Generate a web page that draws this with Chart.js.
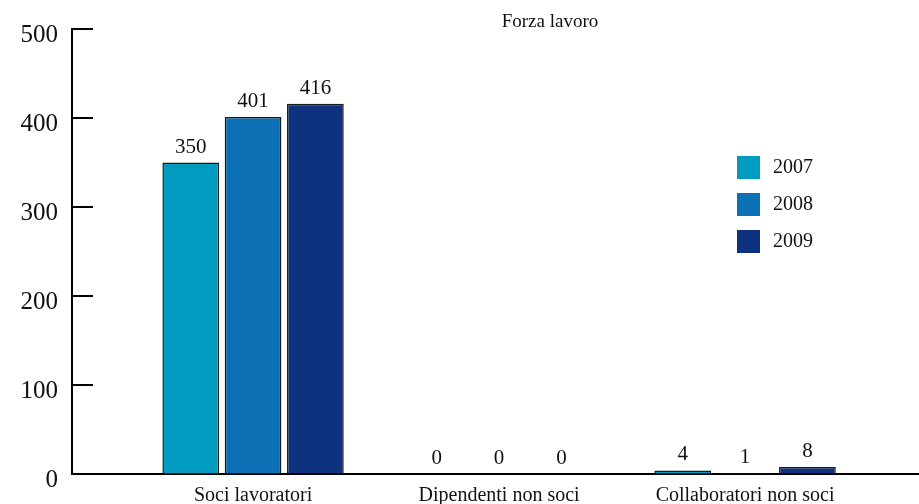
<!DOCTYPE html>
<html>
<head>
<meta charset="utf-8">
<script src="https://cdn.jsdelivr.net/npm/chart.js@4/dist/chart.umd.min.js"></script>
<style>
  html, body { margin: 0; padding: 0; background: #fff; }
  #wrap { width: 919px; height: 504px; }
</style>
</head>
<body>
<div id="wrap"><canvas id="chart" width="919" height="504"></canvas></div>
<script>
// --- dati ---
const categories = ['Soci lavoratori', 'Dipendenti non soci', 'Collaboratori non soci'];
const years = ['2007', '2008', '2009'];
const values2007 = [350, 0, 4];
const values2008 = [401, 0, 1];
const values2009 = [416, 0, 8];
const yTicks = [0, 100, 200, 300, 400, 500];
const chartTitle = 'Forza lavoro';

const colors = ['#009bbf', '#0b71b4', '#0e3180'];
const serif = '"Liberation Serif", "DejaVu Serif", serif';

function toPoints(arr) {
    return arr.map((v, i) => ({ x: i, y: v }));
}

// tacche interne sull'asse y
const innerTicks = {
    id: 'innerTicks',
    afterDraw(chart) {
        const { ctx, chartArea, scales } = chart;
        ctx.save();
        ctx.strokeStyle = '#000';
        ctx.lineWidth = 2;
        scales.y.ticks.forEach((t, i) => {
            const y = Math.round(scales.y.getPixelForTick(i));
            ctx.beginPath();
            ctx.moveTo(chartArea.left, y);
            ctx.lineTo(chartArea.left + 21, y);
            ctx.stroke();
        });
        ctx.restore();
    }
};

// valori sopra le barre
const valueLabels = {
    id: 'valueLabels',
    afterDatasetsDraw(chart) {
        const { ctx } = chart;
        ctx.save();
        ctx.font = '21px ' + serif;
        ctx.fillStyle = '#111';
        ctx.textAlign = 'center';
        ctx.textBaseline = 'alphabetic';
        chart.data.datasets.forEach((ds, di) => {
            chart.getDatasetMeta(di).data.forEach((bar, i) => {
                ctx.fillText(String(ds.data[i].y), bar.x, bar.y - 10);
            });
        });
        ctx.restore();
    }
};

// legenda e titolo disegnati dentro l'area
const legendAndTitle = {
    id: 'legendAndTitle',
    afterDraw(chart) {
        const { ctx } = chart;
        ctx.save();
        ctx.fillStyle = '#111';
        ctx.font = '19px ' + serif;
        ctx.textAlign = 'center';
        ctx.textBaseline = 'middle';
        ctx.fillText(chartTitle, 550, 22);

        ctx.font = '20px ' + serif;
        ctx.textAlign = 'left';
        chart.data.datasets.forEach((ds, i) => {
            const top = 156 + i * 37;
            ctx.fillStyle = ds.backgroundColor;
            ctx.fillRect(737, top, 23, 23);
            ctx.fillStyle = '#111';
            ctx.fillText(ds.label, 773, top + 12);
        });
        ctx.restore();
    }
};

new Chart(document.getElementById('chart'), {
    type: 'bar',
    data: {
        datasets: [
            { label: years[0], data: toPoints(values2007), backgroundColor: colors[0] },
            { label: years[1], data: toPoints(values2008), backgroundColor: colors[1] },
            { label: years[2], data: toPoints(values2009), backgroundColor: colors[2] }
        ]
    },
    options: {
        responsive: false,
        animation: false,
        layout: { padding: { top: 28, right: 0, bottom: 0, left: 0 } },
        datasets: {
            bar: {
                borderColor: '#1a1a1a',
                borderWidth: 1.5,
                categoryPercentage: 0.76,
                barPercentage: 0.91
            }
        },
        plugins: {
            legend: { display: false },
            title: { display: false },
            tooltip: { enabled: false }
        },
        scales: {
            x: {
                type: 'linear',
                offset: false,
                min: -0.736,
                max: 2.707,
                grid: { display: true, drawOnChartArea: false, drawTicks: false },
                border: { display: true, color: '#000', width: 2 },
                afterBuildTicks(scale) {
                    scale.ticks = categories.map((c, i) => ({ value: i }));
                },
                afterFit(scale) { scale.height = 30; },
                ticks: {
                    padding: 10,
                    maxRotation: 0,
                    autoSkip: false,
                    color: '#111',
                    font: { family: serif, size: 20 },
                    callback: v => categories[v]
                }
            },
            y: {
                min: 0,
                max: 500,
                afterBuildTicks(scale) {
                    scale.ticks = yTicks.map(v => ({ value: v }));
                },
                afterFit(scale) { scale.width = 72; },
                grid: { display: true, drawOnChartArea: false, drawTicks: false },
                border: { display: true, color: '#000', width: 2 },
                ticks: {
                    padding: 14,
                    labelOffset: 6,
                    color: '#111',
                    font: { family: serif, size: 25 }
                }
            }
        }
    },
    plugins: [innerTicks, valueLabels, legendAndTitle]
});
</script>
</body>
</html>
